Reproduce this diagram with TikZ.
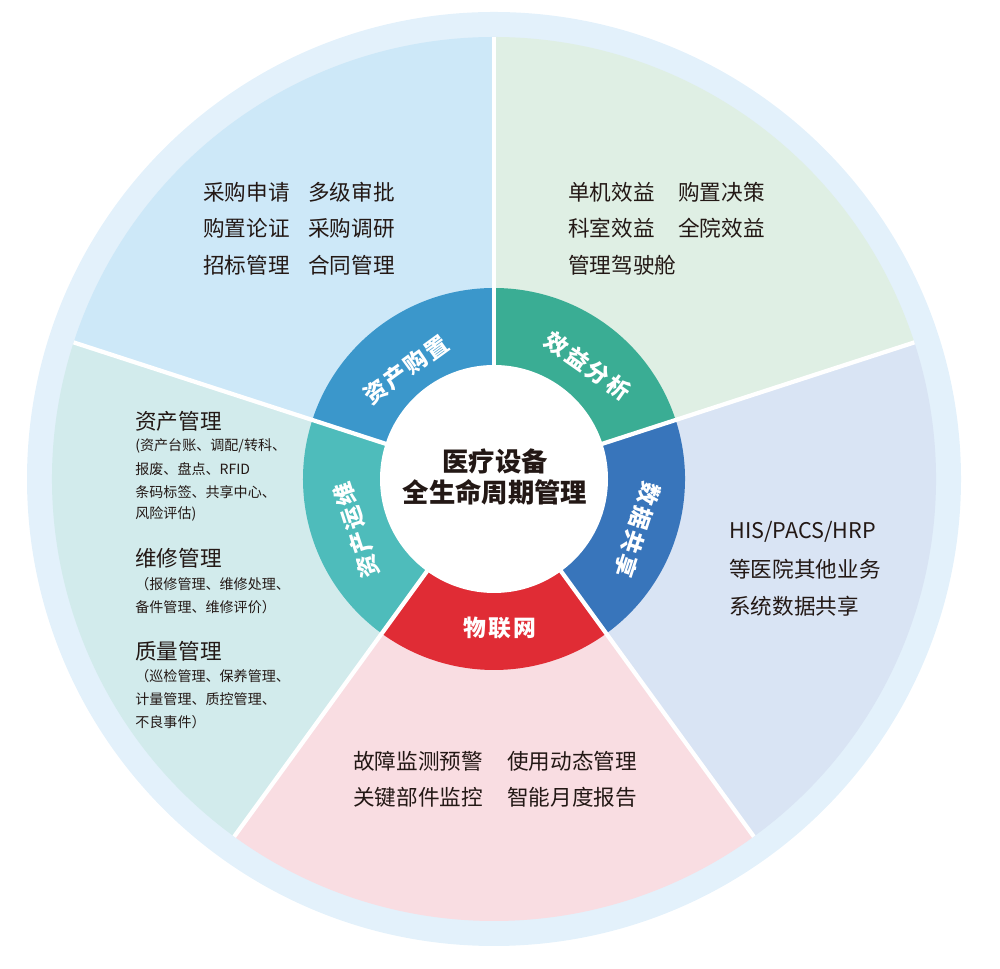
\documentclass[tikz,border=0pt]{standalone}
\usepackage{fontspec}
\setmainfont{Noto Sans CJK SC}
\newfontfamily\ringfont[LetterSpace=10]{Noto Sans CJK SC}
\definecolor{outerc}{HTML}{E3F1FB}
\definecolor{sa}{HTML}{CDE8F8}
\definecolor{sb}{HTML}{DFEFE4}
\definecolor{sc}{HTML}{D9E4F4}
\definecolor{sd}{HTML}{F9DDE2}
\definecolor{se}{HTML}{D2EBEC}
\definecolor{ra}{HTML}{3B97CB}
\definecolor{rb}{HTML}{3AAD94}
\definecolor{rc}{HTML}{3875BB}
\definecolor{rd}{HTML}{E02C35}
\definecolor{re}{HTML}{4EBCBB}
\definecolor{txt}{HTML}{231815}
\tikzset{
  body/.style={anchor=west, inner sep=0pt, text=txt, font=\fontsize{12.3}{14}\selectfont},
  small/.style={anchor=west, inner sep=0pt, text=txt, font=\fontsize{8}{10}\selectfont},
  ringlabel/.style={inner sep=0pt, text=white, font=\ringfont\fontsize{13}{15}\selectfont\bfseries},
  centerlabel/.style={inner sep=0pt, text=txt, align=center, font=\fontsize{15}{17.5}\selectfont\bfseries},
  divider/.style={draw=white, line width=2.4pt}
}
\begin{document}
\begin{tikzpicture}[x=0.02cm,y=0.02cm]
\useasboundingbox (0,0) rectangle (1000,969);
\coordinate (C) at (494,490);
% outer ring
\fill[outerc] (C) circle[radius=467];
% sectors
\fill[sb] (C) -- ++(18:442) arc[start angle=18,end angle=90,radius=442] -- cycle;
\fill[sa] (C) -- ++(90:442) arc[start angle=90,end angle=162,radius=442] -- cycle;
\fill[se] (C) -- ++(162:442) arc[start angle=162,end angle=234,radius=442] -- cycle;
\fill[sd] (C) -- ++(234:442) arc[start angle=234,end angle=306,radius=442] -- cycle;
\fill[sc] (C) -- ++(306:442) arc[start angle=306,end angle=378,radius=442] -- cycle;
% ring segments
\fill[rb] (C) -- ++(18:191) arc[start angle=18,end angle=90,radius=191] -- cycle;
\fill[ra] (C) -- ++(90:191) arc[start angle=90,end angle=162,radius=191] -- cycle;
\fill[re] (C) -- ++(162:191) arc[start angle=162,end angle=234,radius=191] -- cycle;
\fill[rd] (C) -- ++(234:191) arc[start angle=234,end angle=306,radius=191] -- cycle;
\fill[rc] (C) -- ++(306:191) arc[start angle=306,end angle=378,radius=191] -- cycle;
% dividers
\foreach \a in {18,90,162,234,306} \draw[divider] (C) -- ++(\a:442);
% centre disc
\fill[white] (C) circle[radius=114];
\node[centerlabel] (centre) at (495,492) {医疗设备\\全生命周期管理};
% ring labels
\node[ringlabel, rotate=36] (lra) at (406,599.5) {资产购置};
\node[ringlabel, rotate=-35] (lrb) at (588,603) {效益分析};
\node[ringlabel, rotate=-108] (lrc) at (637.5,439) {数据共享};
\node[ringlabel, rotate=108] (lre) at (356.5,439) {资产运维};
\node[ringlabel] (lrd) at (500,341) {物联网};
% top-left sector
\node[body] (a1) at (203,777) {采购申请};
\node[body] (a2) at (203,741) {购置论证};
\node[body] (a3) at (203,704) {招标管理};
\node[body] (a4) at (308,777) {多级审批};
\node[body] (a5) at (308,741) {采购调研};
\node[body] (a6) at (308,704) {合同管理};
% top-right sector
\node[body] (b1) at (568,777) {单机效益};
\node[body] (b2) at (568,741) {科室效益};
\node[body] (b3) at (568,704) {管理驾驶舱};
\node[body] (b4) at (678,777) {购置决策};
\node[body] (b5) at (678,741) {全院效益};
% right sector
\node[body] (c1) at (729,437) {HIS/PACS/HRP};
\node[body] (c2) at (729,400) {等医院其他业务};
\node[body] (c3) at (729,363) {系统数据共享};
% bottom sector
\node[body] (d1) at (353,208) {故障监测预警};
\node[body] (d2) at (353,172) {关键部件监控};
\node[body] (d3) at (507,208) {使用动态管理};
\node[body] (d4) at (507,172) {智能月度报告};
% left sector
\node[body] (e1) at (135,548) {资产管理};
\node[small] (e2) at (135,523) {(资产台账、调配/转科、};
\node[small] (e3) at (135,500) {报废、盘点、RFID};
\node[small] (e4) at (135,477) {条码标签、共享中心、};
\node[small] (e5) at (135,455) {风险评估)};
\node[body] (e6) at (135,411) {维修管理};
\node[small] (e7) at (135,385) {（报修管理、维修处理、};
\node[small] (e8) at (135,362) {备件管理、维修评价）};
\node[body] (e9) at (135,318) {质量管理};
\node[small] (e10) at (135,293) {（巡检管理、保养管理、};
\node[small] (e11) at (135,270) {计量管理、质控管理、};
\node[small] (e12) at (135,247) {不良事件）};
\end{tikzpicture}
\end{document}
